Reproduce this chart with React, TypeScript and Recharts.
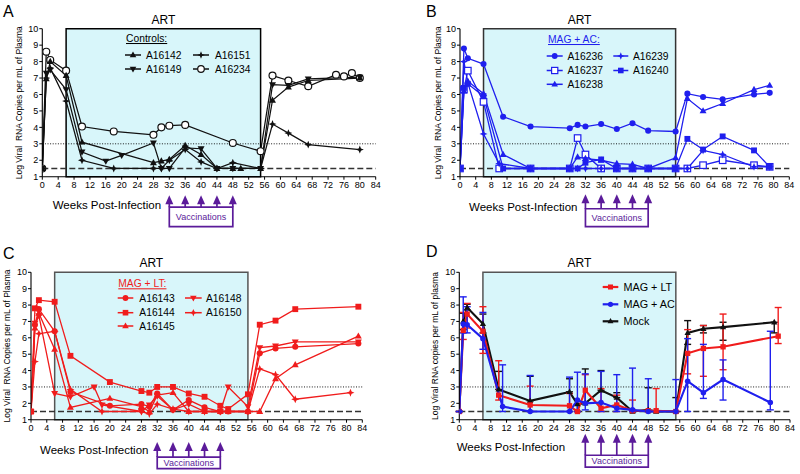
import React from 'react';
import { ComposedChart, Line, XAxis, YAxis, ReferenceArea, ReferenceLine, Legend, ErrorBar } from 'recharts';

const FONT = '"Liberation Sans", Arial, Helvetica, sans-serif';
const RED = '#f01c1c';
const BLUE = '#1f1fee';
const BLACK = '#111111';
const PURPLE = '#5b1b9a';
const ART_FILL = '#d8f6fa';

const xTicks = [0, 4, 8, 12, 16, 20, 24, 28, 32, 36, 40, 44, 48, 52, 56, 60, 64, 68, 72, 76, 80, 84];
const yTicks = [1, 2, 3, 4, 5, 6, 7, 8, 9, 10];
const vaccinationWeeks = [32, 36, 40, 44, 48];
const artStart = 6;
const artEnd = 55;
const thresholdLevel = 3;
const detectionLimit = 1.5;

// ---------- Panel A: Controls ----------
const a16142Weeks = [0, 1, 2, 6, 10, 28, 30, 32, 36, 40, 44, 48, 50, 55, 58, 62, 67, 80];
const a16142Values = [1.5, 6.95, 8.0, 7.15, 3.1, 1.85, 1.95, 2.05, 2.9, 2.35, 1.5, 1.5, 1.5, 1.5, 5.65, 6.45, 6.85, 7.0];
const a16149Weeks = [0, 1, 2, 6, 10, 16, 20, 28, 30, 32, 36, 40, 44, 48, 55, 58, 62, 67, 80];
const a16149Values = [1.5, 7.3, 7.5, 6.3, 2.5, 1.95, 2.3, 3.05, 1.5, 1.5, 2.75, 2.7, 1.5, 1.5, 1.5, 6.6, 6.55, 6.95, 7.05];
const a16151Weeks = [0, 1, 2, 6, 10, 18, 28, 30, 32, 36, 40, 44, 48, 55, 58, 62, 67, 80];
const a16151Values = [1.5, 7.0, 7.6, 5.6, 2.0, 1.5, 1.5, 1.5, 2.0, 2.65, 1.9, 1.5, 1.85, 1.5, 4.2, 3.65, 2.95, 2.65];
const a16234Weeks = [0, 1, 2, 6, 10, 18, 28, 30, 32, 36, 48, 55, 58, 62, 67, 74, 76, 78, 80];
const a16234Values = [1.5, 8.6, 8.1, 7.45, 4.05, 3.75, 3.55, 4.0, 4.1, 4.15, 3.05, 2.55, 7.15, 6.85, 6.5, 7.2, 7.1, 7.3, 7.0];

// ---------- Panel B: MAG + AC ----------
const a16236Weeks = [0, 1, 2, 6, 11, 18, 28, 30, 32, 36, 40, 44, 48, 55, 58, 62, 67, 75, 79];
const a16236Values = [1.5, 8.8, 8.2, 7.85, 4.65, 4.05, 3.95, 4.15, 4.05, 4.2, 3.9, 4.25, 3.8, 3.75, 6.05, 5.85, 5.7, 6.0, 6.1];
const a16237Weeks = [0, 1, 2, 6, 10, 18, 28, 30, 32, 36, 40, 44, 48, 55, 58, 62, 67, 75, 79];
const a16237Values = [1.5, 6.3, 7.45, 5.55, 1.5, 1.5, 1.5, 3.35, 2.35, 1.5, 1.5, 1.5, 1.5, 1.5, 1.5, 1.7, 2.0, 1.7, 1.6];
const a16238Weeks = [0, 1, 2, 6, 11, 18, 28, 30, 32, 36, 40, 44, 48, 55, 58, 62, 67, 75, 79];
const a16238Values = [1.5, 6.2, 6.8, 6.05, 2.35, 1.5, 1.5, 2.2, 2.1, 2.0, 1.8, 1.75, 1.5, 2.15, 5.75, 5.0, 5.45, 6.3, 6.55];
const a16239Weeks = [0, 1, 2, 6, 10, 18, 28, 30, 32, 36, 40, 44, 48, 55, 58, 62, 67, 75, 79];
const a16239Values = [1.5, 8.0, 6.7, 3.6, 1.8, 1.5, 1.5, 1.5, 1.5, 1.5, 1.5, 1.5, 1.5, 1.5, 1.5, 2.6, 2.35, 1.6, 1.6];
const a16240Weeks = [0, 1, 2, 6, 11, 18, 28, 30, 32, 36, 40, 44, 48, 55, 58, 62, 67, 75, 79];
const a16240Values = [1.5, 6.4, 6.65, 5.9, 1.5, 1.5, 1.5, 1.5, 1.85, 2.05, 1.5, 1.5, 1.5, 1.5, 3.3, 2.65, 3.45, 2.6, 1.6];

// ---------- Panel C: MAG + LT ----------
const a16143Weeks = [0, 1, 2, 6, 10, 20, 28, 30, 32, 36, 40, 44, 48, 50, 55, 58, 62, 67, 83];
const a16143Values = [1.5, 6.8, 7.75, 6.4, 2.7, 1.85, 1.95, 1.8, 2.6, 1.6, 2.2, 1.75, 1.5, 1.5, 1.5, 5.05, 5.35, 5.45, 5.65];
const a16144Weeks = [0, 1, 2, 6, 10, 20, 28, 30, 32, 36, 40, 44, 48, 50, 55, 58, 62, 67, 83];
const a16144Values = [1.5, 7.8, 8.3, 8.2, 4.9, 3.3, 2.75, 2.65, 3.0, 3.0, 2.6, 2.4, 1.85, 1.65, 2.55, 6.8, 7.05, 7.75, 7.9];
const a16145Weeks = [0, 1, 2, 6, 10, 20, 28, 30, 32, 36, 40, 44, 48, 50, 55, 58, 62, 67, 83];
const a16145Values = [1.5, 6.6, 7.5, 5.3, 1.75, 2.3, 1.8, 1.5, 2.5, 2.65, 1.5, 1.5, 1.5, 1.5, 1.5, 1.5, 3.5, 4.35, 6.1];
const a16148Weeks = [0, 1, 2, 6, 10, 16, 18, 28, 30, 32, 36, 40, 44, 48, 50, 55, 58, 62, 67, 83];
const a16148Values = [1.5, 6.9, 7.35, 2.6, 2.4, 3.0, 1.9, 1.5, 1.9, 2.45, 1.6, 1.95, 1.5, 1.5, 3.0, 1.8, 5.4, 5.5, 5.75, 5.75];
const a16150Weeks = [0, 1, 2, 6, 10, 18, 28, 30, 32, 36, 40, 44, 48, 55, 58, 62, 67, 81];
const a16150Values = [1.5, 4.55, 6.25, 6.4, 2.85, 1.5, 1.5, 1.35, 1.95, 1.65, 1.5, 1.5, 1.5, 1.5, 4.1, 3.75, 2.25, 2.65];

// ---------- Panel D: group means ----------
const ltWeeks = [0, 1, 2, 6, 10, 18, 28, 30, 32, 36, 40, 44, 48, 50, 55, 58, 62, 67, 81];
const ltMean = [1.5, 6.45, 7.45, 6.4, 2.5, 1.9, 1.85, 1.5, 2.8, 1.7, 1.9, 1.55, 1.55, 1.55, 1.5, 5.05, 5.35, 5.45, 6.1];
const ltLow = [1.5, 5.9, 6.6, 5.05, 2.2, 1.5, 1.5, 1.5, 2.0, 1.5, 1.5, 1.5, 1.5, 1.5, 1.5, 3.8, 3.65, 4.05, 5.65];
const ltHigh = [1.5, 7.55, 8.1, 7.9, 4.6, 3.05, 2.6, 1.5, 3.75, 2.9, 2.5, 2.2, 1.55, 2.9, 1.5, 6.5, 6.75, 7.45, 7.85];

const acWeeks = [0, 1, 2, 6, 11, 18, 28, 30, 32, 36, 40, 44, 48, 55, 58, 62, 67, 79];
const acMean = [1.5, 6.85, 6.8, 5.95, 1.8, 1.5, 1.5, 2.2, 2.0, 2.05, 1.7, 1.6, 1.5, 1.5, 3.35, 2.65, 3.45, 2.05];
const acLow = [1.5, 6.3, 6.3, 5.3, 1.5, 1.5, 1.5, 1.5, 1.6, 1.5, 1.5, 1.5, 1.5, 1.5, 1.5, 2.3, 2.2, 1.6];
const acHigh = [1.5, 8.5, 7.9, 7.55, 4.35, 3.7, 3.6, 3.9, 3.8, 3.95, 3.75, 4.15, 3.5, 3.45, 5.95, 5.6, 4.65, 6.4];

const mockWeeks = [0, 1, 2, 6, 10, 18, 28, 30, 32, 36, 40, 44, 48, 50, 55, 58, 62, 67, 80];
const mockMean = [1.5, 7.0, 7.85, 6.85, 2.85, 2.15, 2.7, 1.95, 2.0, 2.8, 2.35, 1.5, 1.6, 1.5, 1.5, 6.3, 6.55, 6.65, 6.95];
const mockLow = [1.5, 6.5, 7.7, 6.3, 2.85, 2.15, 2.7, 1.5, 2.0, 2.8, 2.35, 1.5, 1.5, 1.5, 1.5, 5.6, 6.3, 5.85, 6.3];
const mockHigh = [1.5, 7.5, 8.05, 7.45, 3.95, 3.65, 3.5, 1.95, 4.1, 4.0, 2.65, 1.5, 2.95, 1.5, 2.35, 7.05, 6.75, 6.95, 6.95];

type Shape = 'circle' | 'circleOpen' | 'square' | 'squareOpen' | 'triUp' | 'triDown' | 'star';

interface SeriesDef {
  name: string;
  shape: Shape;
  color: string;
  weeks: number[];
  values: number[];
  low?: number[];
  high?: number[];
}

const build = (s: SeriesDef) =>
  s.weeks.map((w, i) => ({
    w,
    v: s.values[i],
    e: s.low && s.high ? [s.values[i] - s.low[i], s.high[i] - s.values[i]] : undefined,
  }));

function Marker({ shape, cx, cy, color, s = 1 }: { shape: Shape; cx: number; cy: number; color: string; s?: number }) {
  if (cx == null || cy == null || isNaN(cx) || isNaN(cy)) return null;
  switch (shape) {
    case 'circle':
      return <circle cx={cx} cy={cy} r={2.9 * s} fill={color} />;
    case 'circleOpen':
      return <circle cx={cx} cy={cy} r={3.3 * s} fill="#ffffff" stroke={color} strokeWidth={1.2} />;
    case 'square':
      return <rect x={cx - 2.8 * s} y={cy - 2.8 * s} width={5.6 * s} height={5.6 * s} fill={color} />;
    case 'squareOpen':
      return <rect x={cx - 3.1 * s} y={cy - 3.1 * s} width={6.2 * s} height={6.2 * s} fill="#ffffff" stroke={color} strokeWidth={1.2} />;
    case 'triUp':
      return <path d={`M${cx},${cy - 3.6 * s} L${cx + 3.3 * s},${cy + 2.3 * s} L${cx - 3.3 * s},${cy + 2.3 * s} Z`} fill={color} />;
    case 'triDown':
      return <path d={`M${cx},${cy + 3.6 * s} L${cx + 3.3 * s},${cy - 2.3 * s} L${cx - 3.3 * s},${cy - 2.3 * s} Z`} fill={color} />;
    case 'star': {
      const a = 3.8 * s;
      const b = 1.1 * s;
      return (
        <path
          d={`M${cx},${cy - a} L${cx + b},${cy - b} L${cx + a},${cy} L${cx + b},${cy + b} L${cx},${cy + a} L${cx - b},${cy + b} L${cx - a},${cy} L${cx - b},${cy - b} Z`}
          fill={color}
        />
      );
    }
  }
  return null;
}

const dotFn = (shape: Shape, color: string, s = 1) => (p: any) => (
  <Marker key={`m-${p.index}`} shape={shape} cx={p.cx} cy={p.cy} color={color} s={s} />
);

const arrowShape = (p: any) => {
  const { x1, y1, y2 } = p;
  const top = Math.min(y1, y2);
  const bot = Math.max(y1, y2);
  return (
    <g>
      <line x1={x1} y1={top + 6} x2={x1} y2={bot} stroke={PURPLE} strokeWidth={1.7} />
      <path d={`M${x1},${top} L${x1 + 4},${top + 9} L${x1 - 4},${top + 9} Z`} fill={PURPLE} />
    </g>
  );
};

interface LegendEntry { name: string; shape: Shape; color: string; row: number; col: number }
interface LegendCfg {
  title?: string; titleX?: number; titleY?: number; titleColor?: string;
  rowY: number[]; cols: number[][]; fontSize: number; lineWidth: number; markerScale: number;
  entries: LegendEntry[];
}
interface PanelCfg {
  letter: string; letterX: number; letterY: number;
  left: number; top: number;
  margin: { top: number; right: number; bottom: number; left: number };
  yAxisWidth: number;
  artStroke: string;
  yLabel: string; yLabelX: number;
  xLabelDx: number; xLabelDy: number;
  vac: number[];
  series: SeriesDef[];
  strokeWidth: number;
  markerScale: number;
  errors?: boolean;
  legend: LegendCfg;
}

// draw order: last listed is drawn on top
const controlsSeries: SeriesDef[] = [
  { name: 'A16234', shape: 'circleOpen', color: BLACK, weeks: a16234Weeks, values: a16234Values },
  { name: 'A16142', shape: 'triUp', color: BLACK, weeks: a16142Weeks, values: a16142Values },
  { name: 'A16149', shape: 'triDown', color: BLACK, weeks: a16149Weeks, values: a16149Values },
  { name: 'A16151', shape: 'star', color: BLACK, weeks: a16151Weeks, values: a16151Values },
];
const acSeries: SeriesDef[] = [
  { name: 'A16236', shape: 'circle', color: BLUE, weeks: a16236Weeks, values: a16236Values },
  { name: 'A16237', shape: 'squareOpen', color: BLUE, weeks: a16237Weeks, values: a16237Values },
  { name: 'A16238', shape: 'triUp', color: BLUE, weeks: a16238Weeks, values: a16238Values },
  { name: 'A16239', shape: 'star', color: BLUE, weeks: a16239Weeks, values: a16239Values },
  { name: 'A16240', shape: 'square', color: BLUE, weeks: a16240Weeks, values: a16240Values },
];
const ltSeries: SeriesDef[] = [
  { name: 'A16150', shape: 'star', color: RED, weeks: a16150Weeks, values: a16150Values },
  { name: 'A16148', shape: 'triDown', color: RED, weeks: a16148Weeks, values: a16148Values },
  { name: 'A16145', shape: 'triUp', color: RED, weeks: a16145Weeks, values: a16145Values },
  { name: 'A16143', shape: 'circle', color: RED, weeks: a16143Weeks, values: a16143Values },
  { name: 'A16144', shape: 'square', color: RED, weeks: a16144Weeks, values: a16144Values },
];
const meanSeries: SeriesDef[] = [
  { name: 'Mock', shape: 'triUp', color: BLACK, weeks: mockWeeks, values: mockMean, low: mockLow, high: mockHigh },
  { name: 'MAG + LT', shape: 'square', color: RED, weeks: ltWeeks, values: ltMean, low: ltLow, high: ltHigh },
  { name: 'MAG + AC', shape: 'circle', color: BLUE, weeks: acWeeks, values: acMean, low: acLow, high: acHigh },
];

const panels: PanelCfg[] = [
  {
    letter: 'A', letterX: 3, letterY: 17, left: 0, top: 0,
    margin: { top: 28.7, right: 24.3, bottom: 40.3, left: 12.3 }, yAxisWidth: 30,
    artStroke: '#000', yLabel: 'Log Viral  RNA Copies per mL of Plasma', yLabelX: 19,
    xLabelDx: 10.4, xLabelDy: 32.3, vac: [-0.125, -0.855, -2.04],
    series: controlsSeries, strokeWidth: 1.25, markerScale: 1.05,
    legend: {
      title: 'Controls:', titleX: 126, titleY: 42, titleColor: '#000',
      rowY: [55, 69], cols: [[125, 141, 146], [193, 209, 215]], fontSize: 10.3, lineWidth: 1.5, markerScale: 1,
      entries: [
        { name: 'A16142', shape: 'triUp', color: BLACK, row: 0, col: 0 },
        { name: 'A16151', shape: 'star', color: BLACK, row: 0, col: 1 },
        { name: 'A16149', shape: 'triDown', color: BLACK, row: 1, col: 0 },
        { name: 'A16234', shape: 'circleOpen', color: BLACK, row: 1, col: 1 },
      ],
    },
  },
  {
    letter: 'B', letterX: 26, letterY: 17, left: 400, top: 0,
    margin: { top: 28.7, right: 10.7, bottom: 40.3, left: 30 }, yAxisWidth: 30,
    artStroke: '#333', yLabel: 'Log Viral  RNA Copies per mL of Plasma', yLabelX: 38.3,
    xLabelDx: 9, xLabelDy: 34.3, vac: [-0.06, -0.95, -2.04],
    series: acSeries, strokeWidth: 1.3, markerScale: 1.05,
    legend: {
      title: 'MAG + AC:', titleX: 148, titleY: 43, titleColor: BLUE,
      rowY: [56, 70.5, 84.3], cols: [[146.7, 162.7, 167.5], [213.3, 228.3, 233]], fontSize: 10.3, lineWidth: 1.5, markerScale: 1,
      entries: [
        { name: 'A16236', shape: 'circle', color: BLUE, row: 0, col: 0 },
        { name: 'A16239', shape: 'star', color: BLUE, row: 0, col: 1 },
        { name: 'A16237', shape: 'squareOpen', color: BLUE, row: 1, col: 0 },
        { name: 'A16240', shape: 'square', color: BLUE, row: 1, col: 1 },
        { name: 'A16238', shape: 'triUp', color: BLUE, row: 2, col: 0 },
      ],
    },
  },
  {
    letter: 'C', letterX: 3, letterY: 21.7, left: 0, top: 237,
    margin: { top: 35.3, right: 37.7, bottom: 34.3, left: 7 }, yAxisWidth: 24,
    artStroke: '#555', yLabel: 'Log Viral  RNA Copies per mL of Plasma', yLabelX: 6.7,
    xLabelDx: 9, xLabelDy: 33.8, vac: [-0.36, -1.28, -1.99],
    series: ltSeries, strokeWidth: 1.3, markerScale: 1.05,
    legend: {
      title: 'MAG + LT:', titleX: 118.3, titleY: 50.3, titleColor: RED,
      rowY: [61, 75.7, 89], cols: [[117.7, 133.3, 139.3], [185, 201.7, 206]], fontSize: 10.3, lineWidth: 1.5, markerScale: 1,
      entries: [
        { name: 'A16143', shape: 'circle', color: RED, row: 0, col: 0 },
        { name: 'A16148', shape: 'triDown', color: RED, row: 0, col: 1 },
        { name: 'A16144', shape: 'square', color: RED, row: 1, col: 0 },
        { name: 'A16150', shape: 'star', color: RED, row: 1, col: 1 },
        { name: 'A16145', shape: 'triUp', color: RED, row: 2, col: 0 },
      ],
    },
  },
  {
    letter: 'D', letterX: 26, letterY: 20, left: 400, top: 237,
    margin: { top: 35.3, right: 10, bottom: 34.3, left: 29.3 }, yAxisWidth: 30,
    artStroke: '#555', yLabel: 'Log Viral RNA copies per mL of plasma', yLabelX: 35,
    xLabelDx: -2.6, xLabelDy: 31.3, vac: [0.145, -1.17, -1.89],
    series: meanSeries, strokeWidth: 2.1, markerScale: 0.95, errors: true,
    legend: {
      rowY: [50, 67.3, 84.3], cols: [[202.7, 218.3, 223.5]], fontSize: 10.8, lineWidth: 2.2, markerScale: 0.9,
      entries: [
        { name: 'MAG + LT', shape: 'square', color: RED, row: 0, col: 0 },
        { name: 'MAG + AC', shape: 'circle', color: BLUE, row: 1, col: 0 },
        { name: 'Mock', shape: 'triUp', color: BLACK, row: 2, col: 0 },
      ],
    },
  },
];

function Overlay({ cfg }: { cfg: PanelCfg }) {
  const L = cfg.legend;
  return (
    <svg width={400} height={237} style={{ position: 'absolute', left: 0, top: 0, overflow: 'visible' }} fontFamily={FONT}>
      <text x={cfg.letterX} y={cfg.letterY} fontSize={16} fill="#000">{cfg.letter}</text>
      {L.title && (
        <text x={L.titleX} y={L.titleY} fontSize={L.fontSize} fill={L.titleColor} textDecoration="underline">{L.title}</text>
      )}
      {L.entries.map((e, i) => {
        const y = L.rowY[e.row];
        const [lx1, lx2, tx] = L.cols[e.col];
        return (
          <g key={i}>
            <line x1={lx1} y1={y} x2={lx2} y2={y} stroke={e.color} strokeWidth={L.lineWidth} />
            <Marker shape={e.shape} cx={(lx1 + lx2) / 2} cy={y} color={e.color} s={L.markerScale} />
            <text x={tx} y={y + L.fontSize * 0.36} fontSize={L.fontSize} fill="#000">{e.name}</text>
          </g>
        );
      })}
    </svg>
  );
}

function Panel({ cfg }: { cfg: PanelCfg }) {
  const tickStyle = { fontSize: 9, fill: '#000', fontFamily: FONT };
  const [vTip, vBar, vBottom] = cfg.vac;
  return (
    <div style={{ position: 'absolute', left: cfg.left, top: cfg.top, width: 400, height: 237 }}>
      <ComposedChart width={400} height={237} margin={cfg.margin} style={{ fontFamily: FONT }}>
        <XAxis
          type="number"
          dataKey="w"
          domain={[0, 84]}
          ticks={xTicks}
          interval={0}
          allowDataOverflow
          height={20}
          tickSize={3}
          tickMargin={2}
          tick={tickStyle}
          axisLine={{ stroke: '#000', strokeWidth: 1.1 }}
          tickLine={{ stroke: '#000' }}
          label={(p: any) => {
            const vb = p.viewBox || { x: 0, y: 0 };
            return (
              <text x={vb.x + cfg.xLabelDx} y={vb.y + cfg.xLabelDy} fontSize={11.5} fill="#000" fontFamily={FONT}>
                Weeks Post-Infection
              </text>
            );
          }}
        />
        <YAxis
          type="number"
          domain={[1, 10]}
          ticks={yTicks}
          interval={0}
          allowDataOverflow
          width={cfg.yAxisWidth}
          tickSize={3}
          tickMargin={1}
          tick={tickStyle}
          axisLine={{ stroke: '#000', strokeWidth: 1.1 }}
          tickLine={{ stroke: '#000' }}
          label={(p: any) => {
            const vb = p.viewBox || { y: 0, height: 0 };
            const cy = vb.y + vb.height / 2;
            return (
              <text
                x={cfg.yLabelX}
                y={cy}
                transform={`rotate(-90, ${cfg.yLabelX}, ${cy})`}
                textAnchor="middle"
                dominantBaseline="central"
                fontSize={8.5}
                fill="#000"
                fontFamily={FONT}
                style={{ whiteSpace: 'pre' }}
              >
                {cfg.yLabel}
              </text>
            );
          }}
        />
        <ReferenceArea
          x1={artStart}
          x2={artEnd}
          y1={1}
          y2={10}
          fill={ART_FILL}
          fillOpacity={1}
          stroke={cfg.artStroke}
          strokeWidth={1.5}
          ifOverflow="visible"
          label={{ value: 'ART', position: 'top', offset: 5, fontSize: 12, fill: '#000', fontFamily: FONT }}
        />
        <ReferenceLine y={thresholdLevel} stroke="#000" strokeDasharray="1 1.6" strokeWidth={0.9} ifOverflow="visible" />
        <ReferenceLine y={detectionLimit} stroke="#333" strokeDasharray="6 3" strokeWidth={1.6} ifOverflow="visible" />
        {vaccinationWeeks.map((w) => (
          <ReferenceLine
            key={`vac-${w}`}
            segment={[{ x: w, y: vTip }, { x: w, y: vBar }]}
            ifOverflow="visible"
            stroke={PURPLE}
            shape={arrowShape}
          />
        ))}
        <ReferenceArea
          x1={vaccinationWeeks[0]}
          x2={vaccinationWeeks[vaccinationWeeks.length - 1]}
          y1={vBottom}
          y2={vBar}
          fill="none"
          stroke={PURPLE}
          strokeWidth={1.7}
          ifOverflow="visible"
          label={{ value: 'Vaccinations', position: 'center', fontSize: 9, fill: PURPLE, fontFamily: FONT }}
        />
        {cfg.series.map((s) => (
          <Line
            key={s.name}
            data={build(s)}
            dataKey="v"
            name={s.name}
            type="linear"
            stroke={s.color}
            strokeWidth={cfg.strokeWidth}
            dot={dotFn(s.shape, s.color, cfg.markerScale)}
            activeDot={false}
            isAnimationActive={false}
          >
            {cfg.errors && (
              <ErrorBar dataKey="e" direction="y" width={3.5} strokeWidth={1.4} stroke={s.color} isAnimationActive={false} />
            )}
          </Line>
        ))}
        <Legend
          layout="horizontal"
          verticalAlign="middle"
          align="center"
          wrapperStyle={{ left: 0, top: 0, width: 400, height: 237, pointerEvents: 'none' }}
          content={() => <Overlay cfg={cfg} />}
        />
      </ComposedChart>
    </div>
  );
}

export default function App() {
  return (
    <div style={{ position: 'absolute', left: 0, top: 0, width: 800, height: 474, background: '#fff', fontFamily: FONT }}>
      {panels.map((p) => (
        <Panel key={p.letter} cfg={p} />
      ))}
    </div>
  );
}
